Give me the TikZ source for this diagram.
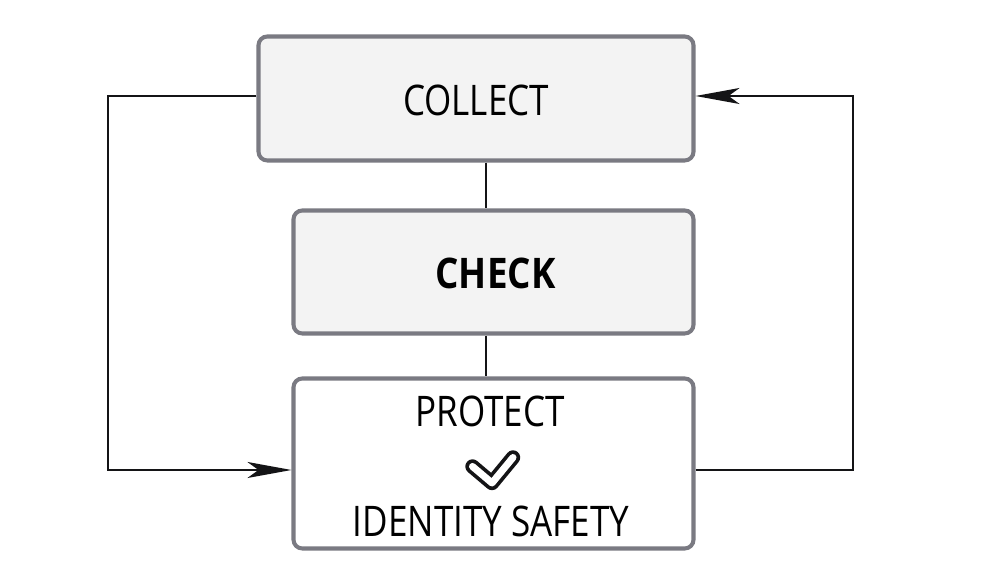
\documentclass[tikz,border=0pt]{standalone}
\usepackage{fontspec}
\setmainfont{Open Sans}[FakeStretch=0.83]
\usepackage{xcolor}
\usepackage{tikz}
\usetikzlibrary{arrows.meta, positioning, calc}
\definecolor{frame}{RGB}{122,122,130}
\definecolor{panel}{RGB}{243,243,243}
\definecolor{ink}{RGB}{20,20,22}

\begin{document}
\begin{tikzpicture}[font=\fontsize{24}{28}\selectfont,
    stagebox/.style={draw=frame, line width=2.3pt, rounded corners=5pt, inner sep=0pt},
    link/.style={draw=ink, line width=1.2pt},
    loop/.style={link, -{Stealth[length=0.88cm, width=0.32cm, inset=0.22cm]}}]
  \useasboundingbox[fill=white] (0,0) rectangle (20,11.26);
  % stages
  \node[stagebox, fill=panel, minimum width=8.7cm, minimum height=2.48cm] (collect) at (9.52,9.29) {};
  \node[stagebox, fill=panel, minimum width=8.0cm, minimum height=2.46cm] (check) at (9.87,5.82) {};
  \node[stagebox, fill=white, minimum width=8.0cm, minimum height=3.40cm] (protect) at (9.87,1.99) {};
  \node (collecttxt) at (9.52,9.26) {COLLECT};
  \node[font=\fontsize{24}{28}\selectfont\bfseries, xscale=1.05] (checktxt) at (9.91,5.80) {CHECK};
  \node (protecttxt) at (9.80,3.04) {PROTECT};
  \node (safetytxt) at (9.82,0.84) {IDENTITY SAFETY};
  % check mark
  \draw[draw=ink, double=white, line width=2.1pt, double distance=4.0pt,
        line cap=round, line join=round]
    (9.45,1.93) -- (9.84,1.60) -- (10.26,2.11);
  % links between stages
  \draw[link] (collect.south -| 9.72,0) -- (check.north -| 9.72,0);
  \draw[link] (check.south -| 9.72,0) -- (protect.north -| 9.72,0);
  % feedback loops
  \coordinate (lefttop) at (2.16,9.34);
  \coordinate (leftbot) at (2.16,1.86);
  \coordinate (righttop) at (17.06,9.34);
  \coordinate (rightbot) at (17.06,1.86);
  \draw[loop] (collect.west |- lefttop) -- (lefttop) -- (leftbot) -- (protect.west |- leftbot);
  \draw[loop] (protect.east |- rightbot) -- (rightbot) -- (righttop) -- (collect.east |- righttop);
\end{tikzpicture}
\end{document}
